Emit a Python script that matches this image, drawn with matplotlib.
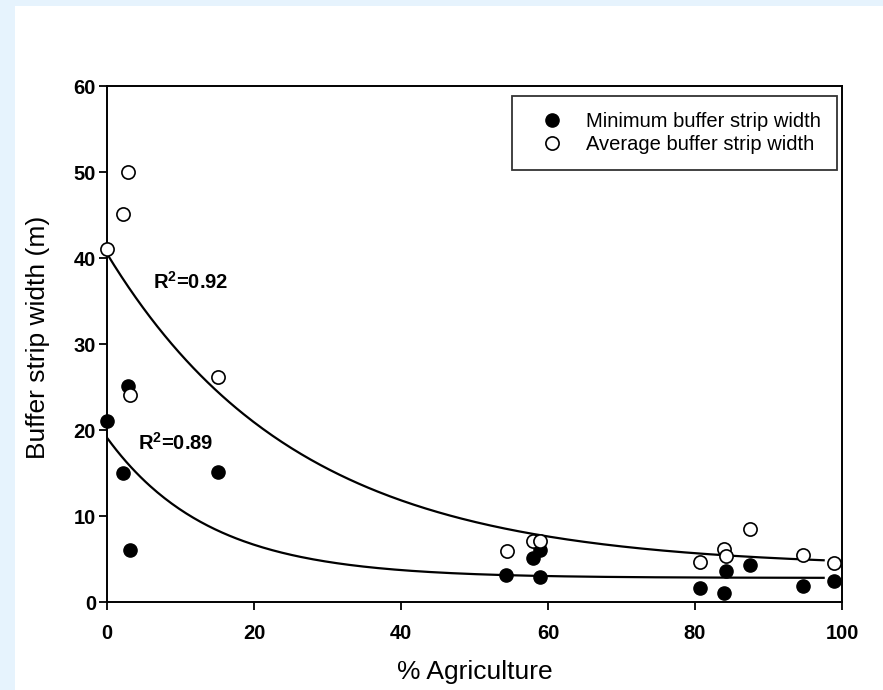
import numpy as np
import matplotlib
matplotlib.use("Agg")
import matplotlib.pyplot as plt
from matplotlib.patches import Rectangle

plt.rcParams['font.family'] = ['Liberation Sans', 'DejaVu Sans']
plt.rcParams['mathtext.fontset'] = 'custom'
plt.rcParams['mathtext.rm'] = 'Liberation Sans'
plt.rcParams['mathtext.bf'] = 'Liberation Sans:bold'

# Minimum buffer strip width (filled markers)
min_x = [0, 2.2, 2.9, 3.1, 15.1, 54.3, 58.0, 58.9, 58.9, 80.7, 83.9, 84.2, 87.5, 94.7, 98.9]
min_y = [21.1, 15.0, 25.1, 6.0, 15.1, 3.2, 5.1, 6.1, 2.9, 1.6, 1.1, 3.6, 4.3, 1.9, 2.5]

# Average buffer strip width (open markers)
avg_x = [0, 2.2, 2.9, 3.1, 15.1, 54.4, 57.9, 58.9, 80.7, 83.9, 84.2, 87.5, 94.7, 98.9]
avg_y = [41.0, 45.1, 50.0, 24.1, 26.2, 5.9, 7.1, 7.1, 4.6, 6.2, 5.3, 8.5, 5.5, 4.5]

# exponential decay fits y = y0 + a*exp(-b*x), parameters
min_fit = [2.8, 16.3, 0.072]
avg_fit = [4.0, 36.5, 0.0385]
fit_range = [0, 97.5]
r2_labels = [r"R$^\mathbf{2}$=0.89", r"R$^\mathbf{2}$=0.92"]

xticks = [0, 20, 40, 60, 80, 100]
yticks = [0, 10, 20, 30, 40, 50, 60]

fig = plt.figure(figsize=(8.83, 6.9), dpi=100)
fig.patch.set_facecolor('#e6f3fd')
fig.add_artist(Rectangle((15 / 883, 0), 1, 684 / 690, transform=fig.transFigure,
                         facecolor='white', edgecolor='none', zorder=0))

ax = fig.add_axes([0.1212, 0.1275, 0.8324, 0.7478])

# fitted curves
xs = np.linspace(fit_range[0], fit_range[1], 300)
for p in (min_fit, avg_fit):
    ax.plot(xs, p[0] + p[1] * np.exp(-p[2] * xs), color='black', lw=1.6, zorder=2)

ax.plot(min_x, min_y, 'o', ms=9.5, color='black', label='Minimum buffer strip width',
        clip_on=False, zorder=3)
ax.plot(avg_x, avg_y, 'o', ms=9.5, mfc='white', mec='black', mew=1.2,
        label='Average buffer strip width', clip_on=False, zorder=4)

ax.text(4.2, 17.7, r2_labels[0], fontsize=14.5, fontweight='bold', va='baseline')
ax.text(6.3, 36.4, r2_labels[1], fontsize=14.5, fontweight='bold', va='baseline')

ax.set_xlim(0, 100)
ax.set_ylim(0, 60)
ax.set_xticks(xticks)
ax.set_yticks(yticks)
for lab in ax.get_xticklabels() + ax.get_yticklabels():
    lab.set_fontweight('bold')
ax.tick_params(axis='both', direction='out', length=5.5, width=1.3, labelsize=14.5)
ax.tick_params(axis='x', pad=10)
ax.tick_params(axis='y', pad=2.5)
for s in ax.spines.values():
    s.set_linewidth(1.4)

ax.set_xlabel('% Agriculture', fontsize=19)
ax.set_ylabel('Buffer strip width (m)', fontsize=19)
ax.xaxis.set_label_coords(0.5, -0.112)
ax.yaxis.set_label_coords(-0.078, 0.512)

leg = ax.legend(loc='upper right', bbox_to_anchor=(0.993, 0.981), borderaxespad=0,
                fontsize=14.5, fancybox=False, frameon=True, borderpad=0.8,
                handlelength=2.3, handletextpad=0.55, labelspacing=0.22)
leg.get_frame().set_edgecolor('black')
leg.get_frame().set_linewidth(1.3)

plt.savefig('out.png', dpi=100, facecolor=fig.get_facecolor())
